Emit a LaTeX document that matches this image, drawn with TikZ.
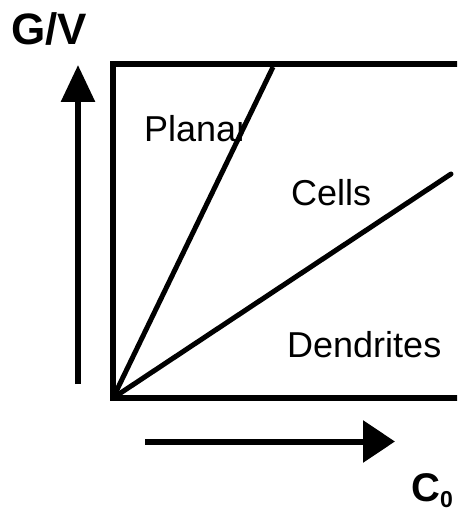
\documentclass[tikz,border=0pt]{standalone}
\usepackage{fontspec}
\setmainfont{Liberation Sans}
\usetikzlibrary{arrows.meta}
\begin{document}
\begin{tikzpicture}[x=1pt,y=-1pt,
  frame/.style={line width=6pt, line join=miter},
  ray/.style={line width=5pt},
  axis/.style={line width=6pt},
  lbl/.style={inner sep=0pt, anchor=base west, font=\fontsize{36}{36}\selectfont},
  axlbl/.style={inner sep=0pt, anchor=base west, font=\bfseries\fontsize{44}{44}\selectfont}]
\useasboundingbox (0,0) rectangle (457,513);
\clip (0,0) rectangle (457,513);
% labels
\node[lbl] (planar) at (144,142) {Planar};
\node[lbl] (cells) at (291,205) {Cells};
\node[lbl] (dend) at (287,357) {Dendrites};
\node[axlbl] (gv) at (11,45) {G/V};
\node[inner sep=0pt, anchor=base west, font=\bfseries\fontsize{40}{40}\selectfont] (c0) at (411,501) {C\raisebox{-6pt}{\fontsize{23}{23}\selectfont 0}};
% frame
\coordinate (O) at (113,398);
\coordinate (TL) at (113,64);
\coordinate (TR) at (462,64);
\coordinate (BR) at (462,398);
\draw[frame] (TR) -- (TL) -- (O) -- (BR);
% boundaries
\coordinate (P) at (273,67);
\coordinate (Cc) at (451,174);
\draw[ray] (O) -- (P);
\draw[ray, line cap=round] (O) -- (Cc);
% axes
\coordinate (vb) at (78,384);
\coordinate (vt) at (78,65);
\coordinate (hl) at (145,441.5);
\coordinate (hr) at (395,441.5);
\draw[axis, -{Triangle[length=37pt,width=33pt]}] (vb) -- (vt);
\draw[axis, -{Triangle[length=32pt,width=41pt]}] (hl) -- (hr);
\end{tikzpicture}
\end{document}
